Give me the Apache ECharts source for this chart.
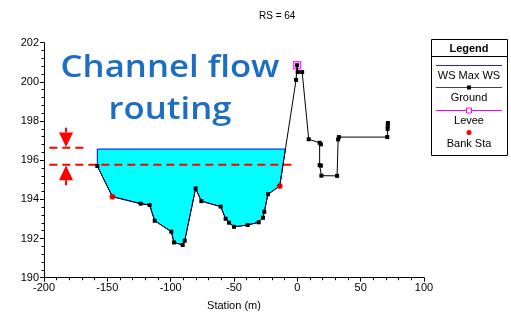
<!DOCTYPE html>
<html>
<head>
<meta charset="utf-8">
<script src="https://cdn.jsdelivr.net/npm/echarts@6/dist/echarts.min.js"></script>
<style>html,body{margin:0;padding:0;background:#fff;}#c{width:511px;height:321px;}</style>
</head>
<body>
<div id="c"></div>
<script>
// ---- data ----
const chartTitle = 'RS = 64';
const bigTitle = ['Channel flow', 'routing'];
const xAxisName = 'Station (m)';
const xMin = -200, xMax = 100, xStep = 50;
const yMin = 190, yMax = 202, yStep = 2;

const groundSta  = [-157.9, -146.0, -123.7, -116.6, -112.6, -99.5, -97.4, -90.5, -88.9, -80.3, -75.8, -60.5, -56.6, -53.9, -50.0, -39.2, -30.5, -27.1, -26.1, -23.2, -13.9, -1.0, -0.2, 0.3, 3.8, 9.0, 17.6, 18.6, 17.6, 18.6, 19.0, 31.4, 32.2, 32.8, 71.0, 71.3, 71.4, 71.5];
const groundElev = [195.70, 194.14, 193.78, 193.71, 192.91, 192.35, 191.80, 191.67, 191.89, 194.56, 193.91, 193.63, 193.01, 192.81, 192.60, 192.69, 192.83, 193.06, 193.37, 194.26, 194.68, 200.10, 200.85, 200.50, 200.50, 197.07, 196.89, 196.81, 195.75, 195.72, 195.21, 195.20, 197.06, 197.18, 197.18, 197.60, 197.76, 197.90];

const wsElev = 196.57;           // WS Max WS
const leveeSta = [-0.2];
const leveeElev = [200.85];
const bankSta = [-146.0, -13.9];
const bankElev = [194.14, 194.68];

// red dashed annotation lines
const dashUpperSta = [-195.8, -167.6];
const dashUpperElev = [196.64, 196.64];
const dashLowerSta = [-195.8, -1.8];
const dashLowerElev = [195.77, 195.77];
// arrows: station, tip elev, base elev, stem end elev
const arrowSta  = [-182.6, -182.6];
const arrowTip  = [196.68, 195.73];
const arrowBase = [197.42, 194.98];
const arrowStem = [197.66, 194.72];

const legendItems = ['WS Max WS', 'Ground', 'Levee', 'Bank Sta'];

// ---- build ----
function pairs(a, b) { return a.map((v, i) => [v, b[i]]); }

// WS polygon: from first ground point to first upward crossing of the WS elevation
function wsPolygon() {
  const pts = [[groundSta[0], wsElev]];
  let k = 1;
  for (; k < groundSta.length; k++) {
    if (groundElev[k - 1] < wsElev && groundElev[k] >= wsElev) break;
  }
  const t = (wsElev - groundElev[k - 1]) / (groundElev[k] - groundElev[k - 1]);
  const xr = groundSta[k - 1] + t * (groundSta[k] - groundSta[k - 1]);
  pts.push([xr, wsElev]);
  for (let i = k - 1; i >= 0; i--) pts.push([groundSta[i], groundElev[i]]);
  return pts;
}
const wsPts = wsPolygon();

const font = 'Liberation Sans, Arial, sans-serif';
const chart = echarts.init(document.getElementById('c'), null, {renderer: 'canvas'});

const lx = 431, ly = 39, lw = 76, lh = 116, lcx = lx + lw / 2;
const titleFont = '600 31px "Open Sans", "Noto Sans", sans-serif';

chart.setOption({
  animation: false,
  backgroundColor: '#fff',
  title: {
    text: chartTitle, top: 6, left: 254,
    textStyle: {fontFamily: font, fontSize: 10, fontWeight: 'normal', color: '#000'}
  },
  grid: {left: 44, right: 87, top: 42.7, bottom: 43.3, containLabel: false},
  xAxis: {
    type: 'value', min: xMin, max: xMax, interval: xStep,
    name: xAxisName, nameLocation: 'middle', nameGap: 23,
    nameTextStyle: {fontFamily: font, fontSize: 11, color: '#000'},
    axisLine: {onZero: false, lineStyle: {color: '#000', width: 1}},
    axisTick: {show: true, inside: false, length: 4, lineStyle: {color: '#000'}},
    minorTick: {show: true, splitNumber: 5, length: 2.5, lineStyle: {color: '#000'}},
    axisLabel: {fontFamily: font, fontSize: 11, color: '#000', margin: 5},
    splitLine: {show: false}
  },
  yAxis: {
    type: 'value', min: yMin, max: yMax, interval: yStep,
    axisLine: {show: true, onZero: false, lineStyle: {color: '#000', width: 1}},
    axisTick: {show: true, inside: false, length: 4, lineStyle: {color: '#000'}},
    minorTick: {show: true, splitNumber: 5, length: 2.5, lineStyle: {color: '#000'}},
    axisLabel: {fontFamily: font, fontSize: 11, color: '#000', margin: 5},
    splitLine: {show: false}
  },
  series: [
    {
      name: 'WS Max WS', type: 'custom', z: 1,
      data: [0],
      renderItem: function (params, api) {
        const p = wsPts.map(d => api.coord(d));
        return {
          type: 'polygon',
          shape: {points: p},
          style: {fill: '#00ffff', stroke: '#0000ff', lineWidth: 1}
        };
      }
    },
    {
      name: 'dashU', type: 'line', z: 3, data: pairs(dashUpperSta, dashUpperElev),
      symbol: 'none', lineStyle: {color: '#ff0000', width: 2, type: [8, 5]}
    },
    {
      name: 'dashL', type: 'line', z: 3, data: pairs(dashLowerSta, dashLowerElev),
      symbol: 'none', lineStyle: {color: '#ff0000', width: 2, type: [8, 5]}
    },
    {
      name: 'arrows', type: 'custom', z: 3,
      data: arrowSta.map((s, i) => [s, arrowTip[i], arrowBase[i], arrowStem[i]]),
      renderItem: function (params, api) {
        const s = api.value(0);
        const tip = api.coord([s, api.value(1)]);
        const base = api.coord([s, api.value(2)]);
        const stem = api.coord([s, api.value(3)]);
        return {
          type: 'group',
          children: [
            {type: 'line', shape: {x1: base[0], y1: base[1], x2: stem[0], y2: stem[1]},
             style: {stroke: '#ff0000', lineWidth: 2}},
            {type: 'polygon', shape: {points: [[base[0] - 7, base[1]], [base[0] + 7, base[1]], [tip[0], tip[1]]]},
             style: {fill: '#ff0000'}}
          ]
        };
      }
    },
    {
      name: 'Levee', type: 'scatter', z: 4, data: pairs(leveeSta, leveeElev),
      symbol: 'rect', symbolSize: 7,
      itemStyle: {color: '#ffffff', borderColor: '#ff00ff', borderWidth: 1.5}
    },
    {
      name: 'Ground', type: 'line', z: 5, data: pairs(groundSta, groundElev),
      symbol: 'rect', symbolSize: 4, showAllSymbol: true,
      lineStyle: {color: '#000', width: 1}, itemStyle: {color: '#000'}
    },
    {
      name: 'Bank Sta', type: 'scatter', z: 6, data: pairs(bankSta, bankElev),
      symbol: 'circle', symbolSize: 6, itemStyle: {color: '#ff0000'}
    }
  ],
  graphic: [
    {type: 'text', z: 10, x: 170, y: 68, scaleX: 1.12,
      style: {x: 0, y: 0, text: bigTitle[0], fill: '#1B6EC2',
      font: titleFont, textAlign: 'center', textVerticalAlign: 'middle'}},
    {type: 'text', z: 10, x: 170, y: 110, scaleX: 1.12,
      style: {x: 0, y: 0, text: bigTitle[1], fill: '#1B6EC2',
      font: titleFont, textAlign: 'center', textVerticalAlign: 'middle'}},
    // legend box
    {type: 'rect', z: 10, shape: {x: lx + 0.5, y: ly + 0.5, width: lw, height: lh},
      style: {fill: '#fff', stroke: '#000', lineWidth: 1}},
    {type: 'line', z: 11, shape: {x1: lx, y1: 56.5, x2: lx + lw, y2: 56.5}, style: {stroke: '#000', lineWidth: 1}},
    {type: 'text', z: 11, style: {x: lcx, y: 49, text: 'Legend', fill: '#000',
      font: 'bold 11px "Liberation Sans", Arial', textAlign: 'center', textVerticalAlign: 'middle'}},
    {type: 'line', z: 11, shape: {x1: 436, y1: 65.5, x2: 502, y2: 65.5}, style: {stroke: '#2020ff', lineWidth: 1}},
    {type: 'text', z: 11, style: {x: lcx, y: 76, text: legendItems[0], fill: '#000',
      font: '11px "Liberation Sans", Arial', textAlign: 'center', textVerticalAlign: 'middle'}},
    {type: 'line', z: 11, shape: {x1: 436, y1: 87.5, x2: 502, y2: 87.5}, style: {stroke: '#444', lineWidth: 1}},
    {type: 'rect', z: 12, shape: {x: lcx - 2, y: 85.5, width: 4, height: 4}, style: {fill: '#000'}},
    {type: 'text', z: 11, style: {x: lcx, y: 98, text: legendItems[1], fill: '#000',
      font: '11px "Liberation Sans", Arial', textAlign: 'center', textVerticalAlign: 'middle'}},
    {type: 'line', z: 11, shape: {x1: 436, y1: 110.5, x2: 502, y2: 110.5}, style: {stroke: '#ff00ff', lineWidth: 1}},
    {type: 'rect', z: 12, shape: {x: lcx - 2.5, y: 108, width: 5, height: 5}, style: {fill: '#fff', stroke: '#ff00ff', lineWidth: 1}},
    {type: 'text', z: 11, style: {x: lcx, y: 120.5, text: legendItems[2], fill: '#000',
      font: '11px "Liberation Sans", Arial', textAlign: 'center', textVerticalAlign: 'middle'}},
    {type: 'circle', z: 11, shape: {cx: lcx, cy: 132.5, r: 2.5}, style: {fill: '#ff0000'}},
    {type: 'text', z: 11, style: {x: lcx, y: 143.5, text: legendItems[3], fill: '#000',
      font: '11px "Liberation Sans", Arial', textAlign: 'center', textVerticalAlign: 'middle'}}
  ]
});
</script>
</body>
</html>
